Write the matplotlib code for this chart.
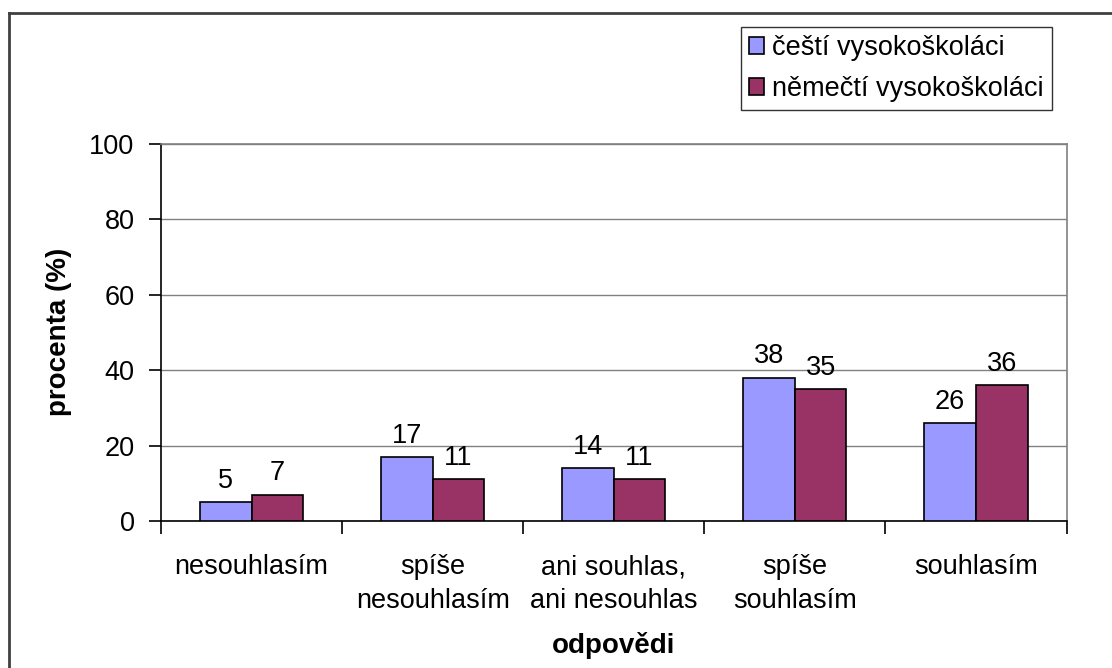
import matplotlib.pyplot as plt
from matplotlib.lines import Line2D
import numpy as np

plt.rcParams['font.family'] = ['Liberation Sans', 'DejaVu Sans']

# data
categories = ["nesouhlasím", "spíše\nnesouhlasím", "ani souhlas,\nani nesouhlas",
              "spíše\nsouhlasím", "souhlasím"]
cesti = [5, 17, 14, 38, 26]
nemecti = [7, 11, 11, 35, 36]
series_names = ["čeští vysokoškoláci", "němečtí vysokoškoláci"]
yticks = [0, 20, 40, 60, 80, 100]

W, H = 1112, 668
fig = plt.figure(figsize=(W / 100, H / 100), dpi=100)
ax = fig.add_axes([161 / W, 1 - 521 / H, 905.5 / W, 377.3 / H])

x = np.arange(len(categories))
bw = 0.285
b1 = ax.bar(x - bw / 2, cesti, bw, color="#9999FF", edgecolor="black", linewidth=1.2,
            label=series_names[0], zorder=3)
b2 = ax.bar(x + bw / 2, nemecti, bw, color="#993366", edgecolor="black", linewidth=1.2,
            label=series_names[1], zorder=3)

for bars, vals in ((b1, cesti), (b2, nemecti)):
    for r, v in zip(bars, vals):
        ax.annotate(str(v), (r.get_x() + r.get_width() / 2, v), xytext=(0, 6),
                    textcoords="offset points", ha="center", va="bottom", fontsize=19.5)

ax.set_xlim(-0.5, len(categories) - 0.5)
ax.set_ylim(0, 100)
ax.set_yticks(yticks)
ax.yaxis.grid(True, color="#808080", linewidth=1)
ax.set_axisbelow(True)

# category labels in the middle, tick marks on the boundaries
ax.set_xticks(x)
ax.set_xticklabels(categories, fontsize=19.5, linespacing=1.4)
ax.set_xticks(np.arange(len(categories) + 1) - 0.5, minor=True)
ax.tick_params(axis="x", which="major", length=0, pad=24)
ax.tick_params(axis="x", which="minor", length=9, width=1.2, direction="out")
ax.tick_params(axis="y", length=9, width=1.2, direction="out", pad=10, labelsize=19.5)

for s in ("top", "right"):
    ax.spines[s].set_color("#808080")
    ax.spines[s].set_linewidth(1.2)
for s in ("left", "bottom"):
    ax.spines[s].set_color("black")
    ax.spines[s].set_linewidth(1.2)

ax.set_ylabel("procenta (%)", fontsize=20, fontweight="bold")
ax.yaxis.set_label_coords(-0.098, 0.5)
ax.set_xlabel("odpovědi", fontsize=20, fontweight="bold")
ax.xaxis.set_label_coords(0.5, -0.295)

leg = fig.legend(loc="upper right", bbox_to_anchor=(1052 / W, 1 - 27 / H), fontsize=19.5,
                 frameon=True, fancybox=False, edgecolor="black", borderaxespad=0,
                 handlelength=0.55, handleheight=0.55, handletextpad=0.3,
                 labelspacing=0.55, borderpad=0.3)
leg.get_frame().set_linewidth(1)

# outer chart border (top and left visible)
fig.add_artist(Line2D([9 / W, 9 / W], [0, 1 - 13 / H], color="#404040", linewidth=2))
fig.add_artist(Line2D([9 / W, 1], [1 - 13 / H, 1 - 13 / H], color="#404040", linewidth=2))

fig.savefig("out.png", dpi=100)
